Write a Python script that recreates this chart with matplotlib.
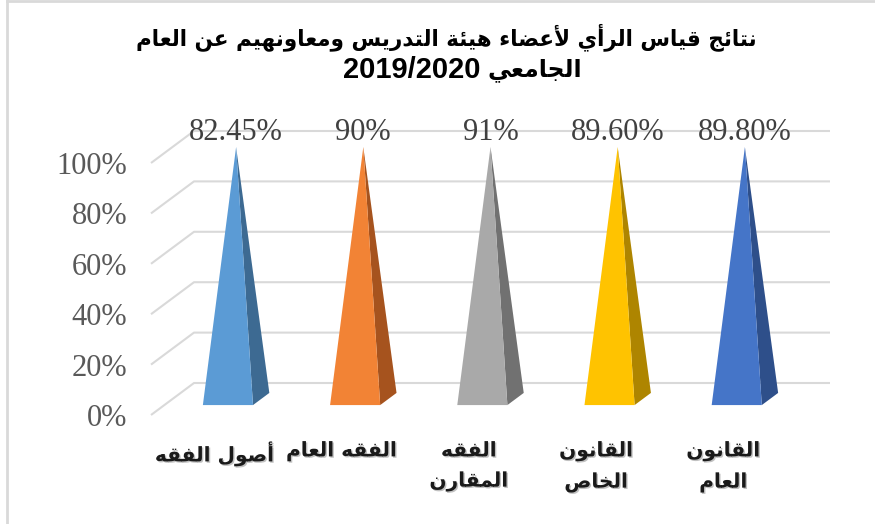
import matplotlib
matplotlib.use("Agg")
import matplotlib.pyplot as plt
from matplotlib.patches import Polygon
import matplotlib.patheffects as pe

# ---- data ----
categories = ["أصول الفقه", "الفقه العام", "الفقه\nالمقارن", "القانون\nالخاص", "القانون\nالعام"]
value_labels = ["82.45%", "90%", "91%", "89.60%", "89.80%"]
pyramid_top = [100, 100, 100, 100, 100]   # drawn height of each pyramid (%)
yticks = [0, 20, 40, 60, 80, 100]
title_l1 = "نتائج قياس الرأي لأعضاء هيئة التدريس ومعاونهيم عن العام"
title_l2a = "الجامعي"
title_l2b = "2019/2020"

face_cols = ["#5B9BD5", "#F28335", "#A9A9A9", "#FFC300", "#4575C8"]
side_cols = ["#3D6A92", "#A6531E", "#717171", "#AE8500", "#2E4F8A"]


# ---- tiny arabic shaper (matplotlib has no text shaping) ----
_letters = "ءآأؤإئابةتثجحخدذرزسشصضطظعغفقكلمنهوىي"
_nforms = [1, 2, 2, 2, 2, 4, 2, 4, 2, 4, 4, 4, 4, 4, 2, 2, 2, 2, 4, 4, 4, 4, 4, 4, 4, 4,
           4, 4, 4, 4, 4, 4, 4, 2, 2, 4]
FORMS = {}
_cp = 0xFE80
for _c, _n in zip(_letters, _nforms):
    FORMS[_c] = [chr(_cp + k) for k in range(_n)]
    _cp += _n
LAMALEF = {"آ": 0xFEF5, "أ": 0xFEF7, "إ": 0xFEF9, "ا": 0xFEFB}


def _dual(c):
    return c in FORMS and len(FORMS[c]) == 4


def shape_line(s):
    out = []
    i = 0
    while i < len(s):
        c = s[i]
        if c not in FORMS:
            out.append(c)
            i += 1
            continue
        prev_j = i > 0 and _dual(s[i - 1])
        if c == "ل" and i + 1 < len(s) and s[i + 1] in LAMALEF:
            out.append(chr(LAMALEF[s[i + 1]] + (1 if prev_j else 0)))
            i += 2
            continue
        next_j = _dual(c) and i + 1 < len(s) and s[i + 1] in FORMS and s[i + 1] != "ء"
        if prev_j and next_j:
            k = 3
        elif prev_j:
            k = 1
        elif next_j:
            k = 2
        else:
            k = 0
        out.append(FORMS[c][min(k, len(FORMS[c]) - 1)])
        i += 1
    return "".join(out[::-1])


def ar(s):
    return "\n".join(shape_line(l) for l in s.split("\n"))


# ---- figure ----
W, H = 875, 524
fig = plt.figure(figsize=(W / 100, H / 100), dpi=100)
fig.patch.set_facecolor("white")

# front plane of the plot: 0% at y=415px, 100% at y=163px, x from 151 to 787px
ax = fig.add_axes([151 / W, (H - 415) / H, 636 / W, 252 / H])
ax.set_xlim(-0.5, 4.5)
ax.set_ylim(0, 100)
for s in ax.spines.values():
    s.set_visible(False)
ax.patch.set_alpha(0)

# oblique depth offset (category units, percent units)
ddx = 43 / 127.2
ddy = 32 / 2.52


def proj(x, v, d):
    return (x + d * ddx, v + d * ddy)


grid_col = "#D9D9D9"
for v in yticks:
    pts = [proj(-0.5, v, 0), proj(-0.5, v, 1), proj(4.5, v, 1)]
    ax.plot([p[0] for p in pts], [p[1] for p in pts], color=grid_col, lw=1.5,
            clip_on=False, zorder=1, solid_capstyle="butt")

w, d0, d1 = 0.197, 0.31, 0.69
for i, top in enumerate(pyramid_top):
    apex = proj(i, top, 0.5)
    front = [proj(i - w, 0, d0), proj(i + w, 0, d0), apex]
    side = [proj(i + w, 0, d0), proj(i + w, 0, d1), apex]
    ax.add_patch(Polygon(side, closed=True, fc=side_cols[i], ec="none", zorder=3, clip_on=False))
    ax.add_patch(Polygon(front, closed=True, fc=face_cols[i], ec="none", zorder=4, clip_on=False))
    ax.annotate(value_labels[i], apex, xytext=(0, 5), textcoords="offset points",
                ha="center", va="baseline", fontsize=22, family="Liberation Serif",
                color="#404040", zorder=5, annotation_clip=False)

ax.set_yticks(yticks)
ax.set_yticklabels(["%d%%" % v for v in yticks], family="Liberation Serif",
                   fontsize=22, color="#595959")
ax.tick_params(axis="y", length=0, pad=17)

ax.set_xticks(range(len(categories)))
ax.set_xticklabels([ar(c) for c in categories], family="DejaVu Sans",
                   fontweight="bold", fontsize=14.5, color="#1A1A1A", linespacing=1.75)
ax.tick_params(axis="x", length=0, pad=19)
for t in ax.get_xticklabels():
    t.set_path_effects([pe.withSimplePatchShadow(offset=(1, -1), shadow_rgbFace="#999999",
                                                 alpha=0.6)])

# title
fig.text(446 / W, 1 - 37 / H, ar(title_l1), ha="center", va="center",
         family="DejaVu Sans", fontweight="bold", fontsize=15.5, color="black")
fig.text(481 / W, 1 - 70 / H, title_l2b, ha="right", va="center",
         family="Liberation Sans", fontweight="bold", fontsize=21, color="black")
fig.text(487 / W, 1 - 70 / H, ar(title_l2a), ha="left", va="center",
         family="DejaVu Sans", fontweight="bold", fontsize=17, color="black")

# chart frame (left and top edges only visible)
fig.add_artist(plt.Line2D([7 / W, 7 / W], [0, 1 - 1 / H], color="#D9D9D9", lw=2))
fig.add_artist(plt.Line2D([7 / W, 1], [1 - 1 / H, 1 - 1 / H], color="#D9D9D9", lw=2))

fig.savefig("out.png", dpi=100)
